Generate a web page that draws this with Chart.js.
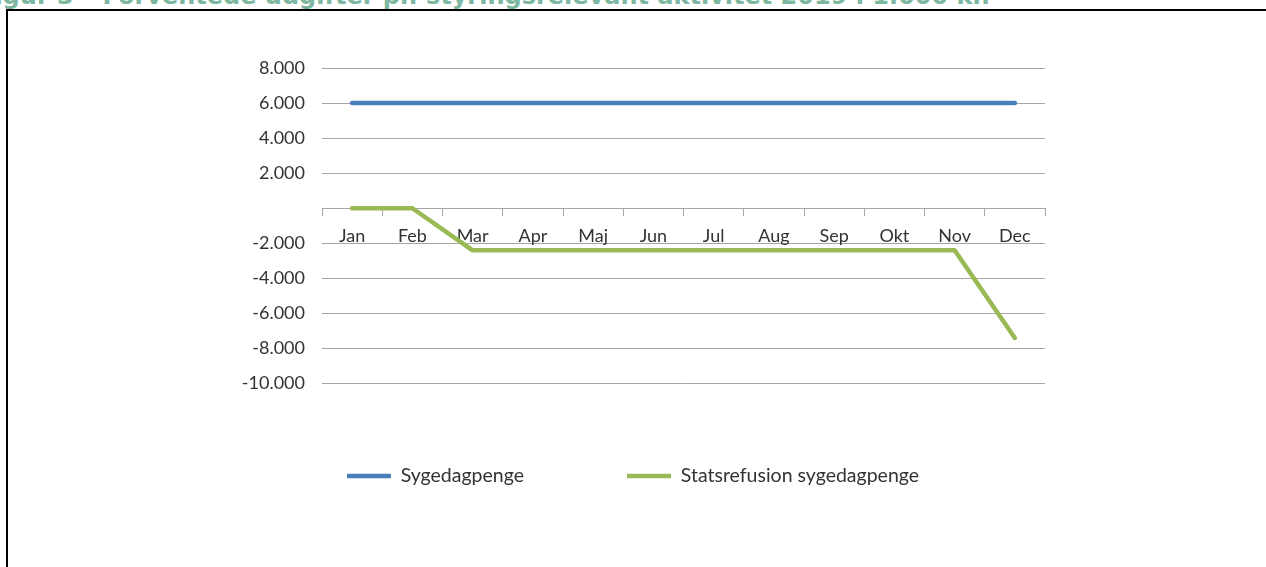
<!DOCTYPE html>
<html lang="da">
<head>
<meta charset="utf-8">
<title>Forventede udgifter 2019</title>
<script src="https://cdn.jsdelivr.net/npm/chart.js@4"></script>
<style>
    html, body { margin: 0; padding: 0; background: #fff; overflow: hidden; }
    #wrap { position: relative; width: 1266px; height: 567px; overflow: hidden; }
    #figTitle {
        position: absolute; left: -22px; top: -16px; white-space: nowrap;
        font: bold 24px "DejaVu Sans", sans-serif; line-height: 24px;
        color: #7db7a2;
    }
    #frame {
        position: absolute; left: 6px; top: 9px; width: 1400px; height: 700px;
        border-left: 2px solid #000; border-top: 2px solid #000;
        pointer-events: none;
    }
    #chart { position: absolute; left: 0; top: 0; }
</style>
</head>
<body>
<div id="wrap">
    <div id="figTitle">Figur 3 – Forventede udgifter pr. styringsrelevant aktivitet 2019 i 1.000 kr.</div>
    <canvas id="chart" width="1266" height="567"></canvas>
    <div id="frame"></div>
</div>
<script>
// Data (1.000 kr.)
const months = ['Jan', 'Feb', 'Mar', 'Apr', 'Maj', 'Jun', 'Jul', 'Aug', 'Sep', 'Okt', 'Nov', 'Dec'];
const sygedagpenge = [6000, 6000, 6000, 6000, 6000, 6000, 6000, 6000, 6000, 6000, 6000, 6000];
const statsrefusion = [0, 0, -2400, -2400, -2400, -2400, -2400, -2400, -2400, -2400, -2400, -7400];
const yTicks = [-10000, -8000, -6000, -4000, -2000, 0, 2000, 4000, 6000, 8000];

const FONT = 'Lato';
const TEXT = '#333333';
const GRID = '#a6a6a6';

// Danish thousands format, blank for zero (like the Excel original)
function fmt(v) {
    if (v === 0) return '';
    const s = String(Math.abs(v)).replace(/\B(?=(\d{3})+(?!\d))/g, '.');
    return (v < 0 ? '-' : '') + s;
}

// Put the legend row across the full canvas width, below the plot
const legendPlacer = {
    id: 'legendPlacer',
    afterLayout(chart) {
        const lg = chart.legend;
        const pad = lg.options.labels.padding;
        const size = lg.options.labels.font.size;
        const top = 476 - pad - size / 2;
        lg.left = 0;
        lg.right = chart.width;
        lg.width = chart.width;
        lg.bottom = top + lg.height;
        lg.top = top;
    }
};

new Chart(document.getElementById('chart'), {
    type: 'line',
    data: {
        labels: months,
        datasets: [
            {
                label: 'Sygedagpenge',
                data: sygedagpenge,
                borderColor: '#4a7ebb',
                backgroundColor: '#4a7ebb',
                borderWidth: 4.5,
                borderCapStyle: 'round',
                pointRadius: 0,
                pointStyle: 'line',
                tension: 0
            },
            {
                label: 'Statsrefusion sygedagpenge',
                data: statsrefusion,
                borderColor: '#98b954',
                backgroundColor: '#98b954',
                borderWidth: 4.5,
                borderCapStyle: 'round',
                borderJoinStyle: 'round',
                pointRadius: 0,
                pointStyle: 'line',
                tension: 0
            }
        ]
    },
    options: {
        responsive: false,
        animation: false,
        layout: {
            padding: { left: 0, right: 221, top: 68, bottom: 51 }
        },
        plugins: {
            legend: {
                position: 'bottom',
                align: 'center',
                labels: {
                    usePointStyle: true,
                    pointStyleWidth: 44,
                    padding: 103,
                    color: TEXT,
                    font: { family: FONT, size: 19.5 }
                }
            },
            tooltip: { enabled: false }
        },
        scales: {
            x: {
                position: { y: 0 },
                offset: true,
                grid: {
                    offset: true,
                    drawOnChartArea: false,
                    drawTicks: true,
                    tickLength: 7,
                    color: GRID
                },
                border: { display: true, color: GRID, width: 1 },
                ticks: {
                    color: TEXT,
                    padding: 10,
                    maxRotation: 0,
                    font: { family: FONT, size: 18 }
                }
            },
            y: {
                min: -10000,
                max: 8000,
                afterBuildTicks(scale) {
                    scale.ticks = yTicks.map(v => ({ value: v }));
                },
                afterFit(scale) {
                    scale.width = 322;
                },
                grid: {
                    color: GRID,
                    drawTicks: false
                },
                border: { display: false },
                ticks: {
                    color: TEXT,
                    padding: 17,
                    font: { family: FONT, size: 18 },
                    callback: v => fmt(v)
                }
            }
        }
    },
    plugins: [legendPlacer]
});
</script>
</body>
</html>
